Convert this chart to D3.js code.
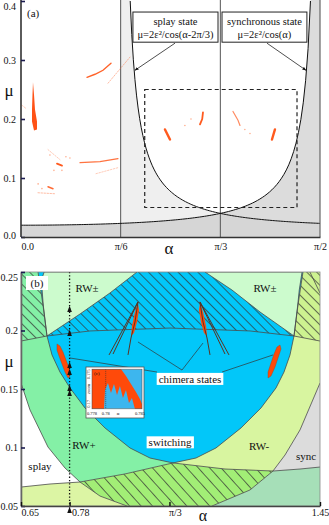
<!DOCTYPE html>
<html><head><meta charset="utf-8">
<script src="https://cdn.jsdelivr.net/npm/d3@7"></script>
<style>
body{margin:0;background:#fff}
svg text{font-family:"Liberation Serif","DejaVu Serif",serif;fill:#111}
</style></head><body>
<svg id="fig" width="329" height="525"></svg>
<script>
// ---------- panel (a) data ----------
var epsA = 0.1;   // from the boxed formulas mu = 2 eps^2 / cos(...)
var aXTicks = [0, Math.PI / 6, Math.PI / 3, Math.PI / 2];
var aXLabels = ["0.0", "π/6", "π/3", "π/2"];
var aYTicks = [0, 0.1, 0.2, 0.3, 0.4];
var aYLabels = ["0.0", "0.1", "0.2", "0.3", "0.4"];
var zoomRect = [0.65, 1.45, 0.05, 0.25];
var blobA = [[0.063,0.2621],[0.0683,0.2417],[0.0735,0.2162],[0.084,0.1958],[0.084,0.1823],[0.0683,0.1806],[0.0578,0.1958],[0.0578,0.2162],[0.0604,0.2417]];
var streaksA = [
  [[0.3467,0.2707],[0.3887,0.2758],[0.4308,0.2826],[0.4728,0.2945]],
  [[0.457,0.2606],[0.5726,0.3049]],
  [[0.3099,0.1261],[0.415,0.1278],[0.5095,0.1329]],
  [[0.394,0.1073],[0.5095,0.1175]],
  [[0.1891,0.1244],[0.2154,0.121]],
  [[0.1418,0.0852],[0.1681,0.0818]],
  [[0.0893,0.075],[0.1786,0.0733]],
  [[0.7564,0.1823],[0.7827,0.1652]],
  [[0.956,0.2112],[0.952,0.2],[0.9403,0.1908]],
  [[1.1137,0.2128],[1.14,0.198],[1.1504,0.1891]],
  [[1.3342,0.1823],[1.3185,0.1652]],
  [[0.0053,0.2232],[0.026,0.218]],
  [[0.1418,0.1481],[0.2049,0.1311]]
];
var streakWidthA = [1.4, 0.9, 1.2, 0.8, 1.8, 1.4, 0.9, 2.4, 1.8, 1.2, 2.4, 0.8, 0.8];
var streakAlphaA = [0.95, 0.45, 0.85, 0.4, 1, 0.9, 0.45, 1, 1, 0.7, 1, 0.4, 0.4];
var dotsA = [[0.152,0.139],[0.236,0.136],[0.257,0.134],[0.173,0.113],[0.215,0.113],[0.861,0.1891],[0.893,0.2],[1.176,0.1823],[1.203,0.1755],[0.09,0.09],[0.11,0.082]];
var boxSplay = [0.588, 1.035, 0.3813, 0.3302];
var boxSync = [1.056, 1.502, 0.3813, 0.3302];
var boxTexts = [["splay state", "μ=2ε²/cos(α-2π/3)"], ["synchronous state", "μ=2ε²/cos(α)"]];
var arrowsA = [[[0.809,0.3285],[0.5988,0.2826]], [[1.2922,0.3285],[1.4971,0.2826]]];

// ---------- panel (b) data ----------
var bXTicks = [0.65, 0.78, Math.PI / 3, 1.45];
var bXLabels = ["0.65", "0.78", "π/3", "1.45"];
var bYTicks = [0.05, 0.1, 0.15, 0.2, 0.25];
var bYLabels = ["0.05", "0.1", "0.15", "0.2", "0.25"];
var arcRWp = [[0.65,0.1551],[0.6741,0.1321],[0.7222,0.1004],[0.7677,0.0825],[0.8079,0.0705],[0.8614,0.0585],[0.9336,0.05]];
var arcRWm = [[1.45,0.1551],[1.3965,0.115],[1.3564,0.0936],[1.3242,0.0799],[1.2627,0.0637],[1.161,0.05]];
var lowLeft = [[0.65,0.0662],[0.7276,0.0688],[0.8079,0.0705]];
var lowRight = [[1.3242,0.0799],[1.3965,0.0816],[1.45,0.0833]];
var hatchTop = [[0.8079,0.0705],[0.9283,0.0774],[1.0567,0.0868],[1.1958,0.0816],[1.3242,0.0799]];
var switchU = [[0.6955,0.25],[0.7089,0.2218],[0.7196,0.1953],[0.733,0.1791],[0.7543,0.1645],[0.7811,0.1509],[0.8212,0.1338],[0.8748,0.1167],[0.9416,0.0996],[0.9952,0.091],[1.0567,0.0868],[1.1182,0.091],[1.1717,0.0996],[1.2386,0.1167],[1.2921,0.1338],[1.3323,0.1509],[1.3537,0.1645],[1.3697,0.1791],[1.3804,0.1953],[1.3911,0.2218],[1.4045,0.25]];
var midLine = [[0.65,0.191],[0.7196,0.1953],[0.8346,0.1996],[1.0487,0.2021],[1.2627,0.1996],[1.3804,0.1953],[1.45,0.191]];
var mintLeft = [[0.7196,0.1953],[0.7095,0.2218],[0.7045,0.2432],[0.712,0.25],[0.9604,0.25],[0.8881,0.2321],[0.8079,0.2141]];
var mintRight = [[1.1423,0.25],[1.402,0.25],[1.3945,0.2346],[1.3905,0.2218],[1.3804,0.1953],[1.2895,0.2158],[1.2145,0.2346]];
var cornerLeft = [[0.65,0.25],[0.6955,0.25],[0.7089,0.2218],[0.7196,0.1953],[0.65,0.191]];
var cornerRight = [[1.4045,0.25],[1.45,0.25],[1.45,0.191],[1.3804,0.1953],[1.3911,0.2218]];
var topRightEdge = [[1.423,0.25],[1.45,0.232]];
var chimOrange = [
  [[0.963,0.2235],[0.9657,0.2175],[0.9604,0.2073],[0.9523,0.1979],[0.9443,0.1953],[0.947,0.2038],[0.955,0.2158]],
  [[1.1289,0.2235],[1.1262,0.2175],[1.1316,0.2073],[1.1396,0.1979],[1.1477,0.1953],[1.145,0.2038],[1.137,0.2158]]
];
var chimArms = [
  [[0.8855,0.1791],[0.963,0.2244],[0.8962,0.1799]],
  [[0.9363,0.1791],[0.9443,0.1936],[0.955,0.2073],[0.963,0.2244]],
  [[1.2065,0.1791],[1.1289,0.2244],[1.1958,0.1799]],
  [[1.1557,0.1791],[1.1477,0.1936],[1.137,0.2073],[1.1289,0.2244]]
];
var chimBlobs = [
  [[0.7463,0.1885],[0.7543,0.1868],[0.7624,0.1816],[0.7704,0.1748],[0.7784,0.1679],[0.7811,0.1611],[0.7758,0.1594],[0.7677,0.1645],[0.7597,0.1714],[0.7517,0.1782],[0.7463,0.1833]],
  [[1.343,0.1876],[1.3457,0.1842],[1.3376,0.1765],[1.3296,0.1688],[1.3189,0.1611],[1.3109,0.1594],[1.3109,0.1645],[1.3189,0.1722],[1.327,0.1799],[1.335,0.1859]]
];
var chimPointers = [[[0.963,0.1902],[1.0808,0.1662]],[[1.137,0.1893],[1.0808,0.1662]],[[0.7811,0.1765],[1.0139,0.1645]],[[1.3242,0.1791],[1.1878,0.1645]]];
var sweepAlpha = 0.78;
var sweepArrows = [0.2184, 0.1979, 0.1705, 0.1645, 0.1509, 0.1466, 0.0466];
var regionLabels = [
  {t: "RW±", a: 0.8266, m: 0.2363}, {t: "RW±", a: 1.3028, m: 0.2363},
  {t: "RW+", a: 0.8186, m: 0.1021}, {t: "RW-", a: 1.2868, m: 0.1013},
  {t: "sync", a: 1.4125, m: 0.0927}, {t: "splay", a: 0.7008, m: 0.0841}
];
var boxedLabels = [
  {t: "switching", a: 1.0487, m: 0.1043}, {t: "chimera states", a: 1.1022, m: 0.1585}
];

// ---------- inset (c) data ----------
var insetOrange = [[0.778,0.17563],[0.78223,0.17563],[0.78296,0.17453],[0.78369,0.17328],[0.78442,0.17203],[0.785,0.17094],[0.78529,0.17016],[0.78529,0.16938],[0.78427,0.16938],[0.78383,0.17109],[0.7834,0.17031],[0.78296,0.17234],[0.78252,0.17109],[0.78208,0.17297],[0.78165,0.17156],[0.78121,0.17328],[0.78077,0.17188],[0.78033,0.17344],[0.7799,0.17234],[0.77975,0.16938],[0.778,0.16938]];
var insetXLabels = [[0.778, "0.778"], [0.78, "0.78"], [0.785, "0.785"]];

// ---------- scales ----------
var xA = d3.scaleLinear().domain([0, Math.PI / 2]).range([21, 320]);
var yA = d3.scaleLinear().domain([0, 0.4]).range([237, 1]);
var xB = d3.scaleLinear().domain([0.65, 1.45]).range([21, 320]);
var yB = d3.scaleLinear().domain([0.05, 0.25]).range([506, 272]);
var xC = d3.scaleLinear().domain([0.778, 0.7853]).range([92, 142]);
var yC = d3.scaleLinear().domain([0.17, 0.175]).range([405, 373]);

var lineA = d3.line().x(function (d) { return xA(d[0]); }).y(function (d) { return yA(d[1]); });
var lineB = d3.line().x(function (d) { return xB(d[0]); }).y(function (d) { return yB(d[1]); });
var lineC = d3.line().x(function (d) { return xC(d[0]); }).y(function (d) { return yC(d[1]); });

var svg = d3.select("#fig");
var defs = svg.append("defs");
defs.append("clipPath").attr("id", "clipA").append("rect")
  .attr("x", 21).attr("y", 0).attr("width", 299).attr("height", 237);
defs.append("clipPath").attr("id", "clipB").append("rect")
  .attr("x", 21).attr("y", 272).attr("width", 299).attr("height", 234);
defs.append("clipPath").attr("id", "clipC").append("rect")
  .attr("x", xC(0.778)).attr("y", yC(0.1756)).attr("width", xC(0.7853) - xC(0.778)).attr("height", yC(0.1694) - yC(0.1756));

function hatch(id, gap, ang) {
  var p = defs.append("pattern").attr("id", id).attr("patternUnits", "userSpaceOnUse")
    .attr("width", gap).attr("height", gap).attr("patternTransform", "rotate(" + ang + ")");
  p.append("line").attr("x1", gap / 2).attr("y1", 0).attr("x2", gap / 2).attr("y2", gap)
    .attr("stroke", "#333").attr("stroke-width", 0.7);
}
hatch("hTop", 7, -45);
hatch("hBot", 8.5, -42);

// =============== panel (a) ===============
var gA = svg.append("g").attr("clip-path", "url(#clipA)");
var sync = function (a) { return 2 * epsA * epsA / Math.cos(a); };
var splay = function (a) { return 2 * epsA * epsA / Math.cos(a - 2 * Math.PI / 3); };
function sample(lo, hi, f) {
  return d3.range(121).map(function (i) {
    var a = lo + (hi - lo) * i / 120;
    return [a, Math.min(f(a), 0.42)];
  });
}
// splay region (light)
gA.append("path").attr("fill", "#efefef")
  .attr("d", lineA(sample(Math.PI / 6 + 1e-4, Math.PI / 3, splay).concat([[Math.PI / 3, 0], [Math.PI / 6, 0]])));
// sync region (darker)
gA.append("path").attr("fill", "#dcdcdc")
  .attr("d", lineA(sample(Math.PI / 3, Math.PI / 2 - 1e-4, sync).concat([[Math.PI / 2, 0], [Math.PI / 3, 0]])));
// both stable (bottom band)
gA.append("path").attr("fill", "#d6d6d6")
  .attr("d", lineA(sample(0, Math.PI / 3, sync).concat(sample(Math.PI / 3, Math.PI / 2, splay), [[Math.PI / 2, 0], [0, 0]])));
[Math.PI / 6, Math.PI / 3].forEach(function (a) {
  gA.append("line").attr("x1", xA(a)).attr("x2", xA(a)).attr("y1", 0).attr("y2", yA(0))
    .attr("stroke", "#555").attr("stroke-width", 1);
});
gA.append("path").attr("fill", "none").attr("stroke", "#111").attr("stroke-width", 1)
  .attr("d", lineA(sample(0, Math.acos(0.05), sync)));
gA.append("path").attr("fill", "none").attr("stroke", "#111").attr("stroke-width", 1)
  .attr("d", lineA(sample(2 * Math.PI / 3 - Math.acos(0.05), Math.PI / 2, splay)));
// dashed zoom box
gA.append("rect").attr("x", xA(zoomRect[0])).attr("y", yA(zoomRect[3]))
  .attr("width", xA(zoomRect[1]) - xA(zoomRect[0])).attr("height", yA(zoomRect[2]) - yA(zoomRect[3]))
  .attr("fill", "none").attr("stroke", "#222").attr("stroke-width", 1.2).attr("stroke-dasharray", "4,3");
// orange simulation points
gA.append("path").attr("d", lineA(blobA) + "Z").attr("fill", "#ff5216");
streaksA.forEach(function (s, i) {
  gA.append("path").attr("d", lineA(s)).attr("fill", "none").attr("stroke", "#ff5a1e")
    .attr("stroke-width", streakWidthA[i]).attr("stroke-linecap", "round")
    .attr("stroke-opacity", streakAlphaA[i])
    .attr("stroke-dasharray", streakAlphaA[i] < 0.6 ? "1.5,1.5" : null);
});
gA.selectAll(".dotA").data(dotsA).enter().append("circle")
  .attr("cx", function (d) { return xA(d[0]); }).attr("cy", function (d) { return yA(d[1]); })
  .attr("r", 0.8).attr("fill", "#ff6a30").attr("opacity", 0.55);
// formula boxes
[boxSplay, boxSync].forEach(function (b, i) {
  svg.append("rect").attr("x", xA(b[0])).attr("y", yA(b[2]))
    .attr("width", xA(b[1]) - xA(b[0])).attr("height", yA(b[3]) - yA(b[2]))
    .attr("fill", "#fff").attr("stroke", "#222").attr("stroke-width", 1);
  var cx = (xA(b[0]) + xA(b[1])) / 2;
  svg.append("text").attr("x", cx).attr("y", yA(b[2]) + 13).attr("text-anchor", "middle")
    .attr("font-size", 10.5).text(boxTexts[i][0]);
  svg.append("text").attr("x", cx).attr("y", yA(b[2]) + 26).attr("text-anchor", "middle")
    .attr("font-size", 10.5).text(boxTexts[i][1]);
});
defs.append("marker").attr("id", "arr").attr("viewBox", "0 0 10 10").attr("refX", 9).attr("refY", 5)
  .attr("markerWidth", 5).attr("markerHeight", 5).attr("orient", "auto")
  .append("path").attr("d", "M0,1 L10,5 L0,9 Z").attr("fill", "#111");
arrowsA.forEach(function (a) {
  svg.append("line").attr("x1", xA(a[0][0])).attr("y1", yA(a[0][1]))
    .attr("x2", xA(a[1][0])).attr("y2", yA(a[1][1]))
    .attr("stroke", "#222").attr("stroke-width", 0.8).attr("marker-end", "url(#arr)");
});
svg.append("text").attr("x", 27).attr("y", 17).attr("font-size", 11).text("(a)");
// axes (a)
svg.append("line").attr("x1", 320).attr("x2", 320).attr("y1", 0).attr("y2", 237)
  .attr("stroke", "#666").attr("stroke-width", 1.2);
var axAy = svg.append("g").attr("transform", "translate(21,0)")
  .call(d3.axisLeft(yA).tickValues(aYTicks).tickFormat(function (d, i) { return aYLabels[i]; })
    .tickSizeInner(-4).tickSizeOuter(0).tickPadding(5));
axAy.select(".domain").attr("stroke", "#333").attr("stroke-width", 1.6).attr("d", "M0,0V237");
axAy.selectAll(".tick line").attr("stroke", "#1c1c50").attr("stroke-width", 1.6);
axAy.selectAll(".tick text").attr("font-size", 10).attr("font-family", "Liberation Serif")
  .attr("dy", function (d) { return d === 0.4 ? "0.85em" : (d === 0 ? "0.1em" : "0.32em"); });
var axAx = svg.append("g").attr("transform", "translate(0,237)")
  .call(d3.axisBottom(xA).tickValues(aXTicks).tickFormat(function (d, i) { return aXLabels[i]; })
    .tickSizeInner(0).tickSizeOuter(0).tickPadding(6));
axAx.select(".domain").attr("stroke", "#333").attr("stroke-width", 1.6);
axAx.selectAll(".tick text").attr("font-size", 10).attr("font-family", "Liberation Serif")
  .attr("text-anchor", function (d, i) { return i === 0 ? "start" : "middle"; });
svg.append("text").attr("x", 169).attr("y", 254).attr("text-anchor", "middle").attr("font-size", 17).text("α");
svg.append("text").attr("x", 9).attr("y", 96).attr("text-anchor", "middle").attr("font-size", 17).text("μ");

// =============== panel (b) ===============
var gB = svg.append("g").attr("clip-path", "url(#clipB)");
function fillB(pts, col) {
  return gB.append("path").attr("d", lineB(pts) + "Z").attr("fill", col);
}
fillB([[0.65, 0.25], [1.45, 0.25], [1.45, 0.05], [0.65, 0.05]], "#ffffff");
// RW+ band
fillB([[0.65, 0.25], [1.05, 0.25], [1.05, 0.0868]].concat(hatchTop.slice(0, 3).reverse(), arcRWp.slice(0, 5).reverse()), "#84f0a6");
// RW- band
fillB([[1.05, 0.25], [1.45, 0.25]].concat(arcRWm.slice(0, 4), hatchTop.slice(2).reverse(), [[1.05, 0.0868]]), "#d8f5a0");
// below the lower line, left
fillB(lowLeft.concat(arcRWp.slice(4), [[0.65, 0.05]]), "#dcf5a4");
// sync
fillB(arcRWm.slice(0, 4).concat(lowRight.slice(1)), "#dcdcdc");
// teal below lower line, right
fillB(lowRight.concat([[1.45, 0.05]], arcRWm.slice(3).reverse()), "#a6dfb8");
// bottom overlap (hatched)
var overlapBottom = arcRWp.slice(4).concat([[1.161, 0.05]], arcRWm.slice(3, 5).reverse(), hatchTop.slice().reverse());
fillB(overlapBottom, "#a2ee76");
gB.append("path").attr("d", lineB(overlapBottom) + "Z").attr("fill", "url(#hBot)");
// switching region
fillB(switchU, "#02c7f9");
// hatched corners
fillB(cornerLeft, "#84f0a6");
fillB(cornerRight, "#cdf290");
gB.append("path").attr("d", lineB(cornerLeft) + "Z").attr("fill", "url(#hTop)");
gB.append("path").attr("d", lineB(cornerRight) + "Z").attr("fill", "url(#hTop)");
// hatched part of switching region
var hatchedBlue = [mintLeft[0], mintLeft[6], mintLeft[5], mintLeft[4], mintRight[0], mintRight[6], mintRight[5], mintRight[4]]
  .concat(midLine.slice(1, 5).reverse());
gB.append("path").attr("d", lineB(hatchedBlue) + "Z").attr("fill", "url(#hTop)");
// RW± regions
fillB(mintLeft, "#ccfbcd");
fillB(mintRight, "#ccfbcd");
// boundary lines
[arcRWp, arcRWm, lowLeft, lowRight, hatchTop, switchU, midLine, topRightEdge].forEach(function (c) {
  gB.append("path").attr("d", lineB(c)).attr("fill", "none").attr("stroke", "#4a4a4a").attr("stroke-width", 0.8);
});
[mintLeft, mintRight].forEach(function (c) {
  gB.append("path").attr("d", lineB(c) + "Z").attr("fill", "none").attr("stroke", "#4a4a4a").attr("stroke-width", 0.8);
});
// chimera regions
chimPointers.forEach(function (p) {
  gB.append("path").attr("d", lineB(p)).attr("stroke", "#333").attr("stroke-width", 0.7).attr("fill", "none");
});
chimBlobs.forEach(function (b) {
  gB.append("path").attr("d", lineB(b) + "Z").attr("fill", "#ff4a0a").attr("stroke", "#b03a10").attr("stroke-width", 0.4);
});
chimOrange.forEach(function (b) {
  gB.append("path").attr("d", lineB(b) + "Z").attr("fill", "#ff4a0a");
});
chimArms.forEach(function (b) {
  gB.append("path").attr("d", lineB(b)).attr("fill", "none").attr("stroke", "#5a3424").attr("stroke-width", 1);
});
// labels
regionLabels.forEach(function (l) {
  gB.append("text").attr("x", xB(l.a)).attr("y", yB(l.m)).attr("dy", "0.35em")
    .attr("text-anchor", "middle").attr("font-size", 11).attr("fill", "#333").text(l.t);
});
boxedLabels.forEach(function (l) {
  var t = gB.append("text").attr("x", xB(l.a)).attr("y", yB(l.m)).attr("dy", "0.35em")
    .attr("text-anchor", "middle").attr("font-size", 11).text(l.t);
  var bb = t.node().getBBox();
  gB.insert("rect", function () { return t.node(); })
    .attr("x", bb.x - 2).attr("y", bb.y).attr("width", bb.width + 4).attr("height", bb.height)
    .attr("fill", "#fff");
});
gB.append("rect").attr("x", 26).attr("y", 276).attr("width", 22).attr("height", 14).attr("fill", "#fff");
gB.append("text").attr("x", 37).attr("y", 287).attr("text-anchor", "middle").attr("font-size", 11).text("(b)");

// inset (c)
var gC = svg.append("g");
gC.append("rect").attr("x", 86).attr("y", 367).attr("width", 58).attr("height", 51)
  .attr("fill", "#fff").attr("stroke", "#555").attr("stroke-width", 0.8);
var gCp = gC.append("g").attr("clip-path", "url(#clipC)");
gCp.append("rect").attr("x", xC(0.778)).attr("y", yC(0.1756)).attr("width", xC(0.7853) - xC(0.778))
  .attr("height", yC(0.1694) - yC(0.1756)).attr("fill", "#3db6ee");
gCp.append("path").attr("d", lineC(insetOrange) + "Z").attr("fill", "#ff4a0a");
gCp.append("line").attr("x1", xC(0.78)).attr("x2", xC(0.78)).attr("y1", yC(0.1756)).attr("y2", yC(0.1694))
  .attr("stroke", "#333").attr("stroke-width", 0.6).attr("stroke-dasharray", "1,1");
gC.append("rect").attr("x", xC(0.778)).attr("y", yC(0.1756)).attr("width", xC(0.7853) - xC(0.778))
  .attr("height", yC(0.1694) - yC(0.1756)).attr("fill", "none").attr("stroke", "#444").attr("stroke-width", 0.5);
gC.append("text").attr("x", 94).attr("y", 375).attr("font-size", 5).text("(c)");
[[0.1748, "0.175"], [0.1725, "zoom"], [0.1702, "0.17"]].forEach(function (l) {
  gC.append("text").attr("transform", "translate(90," + yC(l[0]) + ") rotate(-90)")
    .attr("text-anchor", "middle").attr("font-size", 4.5).text(l[1]);
});
insetXLabels.forEach(function (l) {
  gC.append("text").attr("x", xC(l[0])).attr("y", 415).attr("text-anchor", "middle")
    .attr("font-size", 4.5).text(l[1]);
});
gC.append("text").attr("x", 118).attr("y", 415).attr("text-anchor", "middle").attr("font-size", 5).text("α");

// parameter sweep at alpha = 0.78
svg.append("line").attr("x1", xB(sweepAlpha)).attr("x2", xB(sweepAlpha))
  .attr("y1", yB(0.25)).attr("y2", yB(0.045))
  .attr("stroke", "#111").attr("stroke-width", 1.3).attr("stroke-dasharray", "1.3,2");
svg.selectAll(".sw").data(sweepArrows).enter().append("path")
  .attr("d", function (m) {
    var x = xB(sweepAlpha), y = yB(m);
    return "M" + (x - 2.3) + "," + (y + 3) + "L" + x + "," + (y - 3.2) + "L" + (x + 2.3) + "," + (y + 3) + "Z";
  }).attr("fill", "#111");

// axes (b)
svg.append("rect").attr("x", 21).attr("y", 272).attr("width", 299).attr("height", 234)
  .attr("fill", "none").attr("stroke", "#888").attr("stroke-width", 0.8);
var axBy = svg.append("g").attr("transform", "translate(21,0)")
  .call(d3.axisLeft(yB).tickValues(bYTicks).tickFormat(function (d, i) { return bYLabels[i]; })
    .tickSizeInner(-4).tickSizeOuter(0).tickPadding(3));
axBy.select(".domain").attr("stroke", "#666").attr("stroke-width", 1.6);
axBy.selectAll(".tick line").attr("stroke", "#1c1c50").attr("stroke-width", 1.6);
axBy.selectAll(".tick text").attr("font-size", 10).attr("font-family", "Liberation Serif")
  .attr("dy", function (d) { return d === 0.25 ? "0.8em" : "0.32em"; });
var axBx = svg.append("g").attr("transform", "translate(0,506)")
  .call(d3.axisBottom(xB).tickValues(bXTicks).tickFormat(function (d, i) { return bXLabels[i]; })
    .tickSizeInner(-4).tickSizeOuter(0).tickPadding(3));
axBx.select(".domain").attr("stroke", "#444").attr("stroke-width", 1.6);
axBx.selectAll(".tick line").attr("stroke", "#111").attr("stroke-width", 1.4);
axBx.selectAll(".tick text").attr("font-size", 10).attr("font-family", "Liberation Serif")
  .attr("text-anchor", function (d, i) { return i === 3 ? "middle" : "start"; })
  .attr("dx", function (d, i) { return [0, 2, -1, 0][i]; });
svg.append("text").attr("x", 203).attr("y", 521).attr("text-anchor", "middle").attr("font-size", 16).text("α");
svg.append("text").attr("x", 9).attr("y", 367).attr("text-anchor", "middle").attr("font-size", 17).text("μ");
</script></body></html>
